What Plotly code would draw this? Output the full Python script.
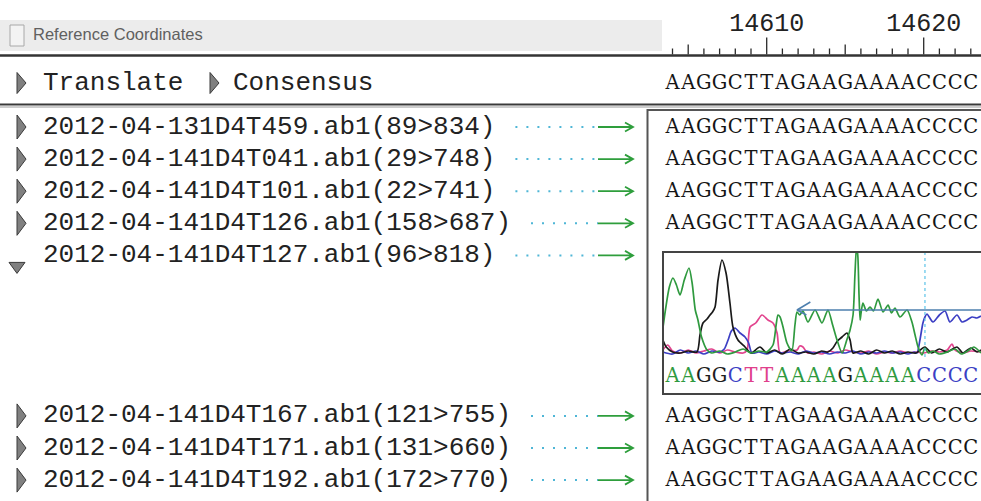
import plotly.graph_objects as go

# ---------------- alignment data ----------------
FIRST_POS = 14604                      # reference coordinate of the first column shown
consensus = "AAGGCTTAGAAGAAAACCCC"
ruler_marks = [14610, 14620]

sample_names = [
    "2012-04-131D4T459.ab1", "2012-04-141D4T041.ab1", "2012-04-141D4T101.ab1",
    "2012-04-141D4T126.ab1", "2012-04-141D4T127.ab1", "2012-04-141D4T167.ab1",
    "2012-04-141D4T171.ab1", "2012-04-141D4T192.ab1",
]
trim_start = [89, 29, 22, 158, 96, 121, 131, 172]
trim_end = [834, 748, 741, 687, 818, 755, 660, 770]
read_bases = [
    "AAGGCTTAGAAGAAAACCCC", "AAGGCTTAGAAGAAAACCCC", "AAGGCTTAGAAGAAAACCCC",
    "AAGGCTTAGAAGAAAACCCC", "AAGGCTTAAAAGAAAACCCC", "AAGGCTTAGAAGAAAACCCC",
    "AAGGCTTAGAAGAAAACCCC", "AAGGCTTAGAAGAAAACCCC",
]
expanded_read = 4                      # read shown with its trace

# chromatogram of the expanded read: offset in bases from FIRST_POS, signal level
trace_A_off = [-0.61, -0.45, -0.2, 0.03, 0.25, 0.48, 0.75, 1.05, 1.25, 1.45, 1.62, 1.85, 2.2,
               2.5, 3.0, 3.5, 4.0, 4.5, 5.0, 5.5, 6.0, 6.4, 6.6, 6.72, 6.85, 7.04, 7.29, 7.6,
               7.8, 7.93, 8.1, 8.31, 8.63, 9.08, 9.52, 9.9, 10.2, 10.48, 10.8, 11.1, 11.31,
               11.5, 11.62, 11.72, 11.8, 11.88, 11.95, 12.01, 12.13, 12.35, 12.58, 12.8, 13.09,
               13.41, 13.73, 13.95, 14.17, 14.49, 14.94, 15.25, 15.45, 15.64, 15.89, 16.08,
               16.3, 16.6, 17.0, 17.5, 18.0, 18.4, 18.8, 19.2, 19.65]
trace_A_sig = [27, 45, 68, 77, 70, 60, 75, 87, 72, 45, 35, 18, 5, 2, 4, 1, 3, 6, 2, 4, 3, 10,
               30, 40, 38, 28, 12, 4, 30, 43, 40, 44, 33, 45, 32, 45, 30, 15, 2, 15, 25, 40, 80,
               108, 100, 60, 35, 42, 52, 44, 48, 44, 56, 43, 50, 42, 47, 38, 45, 33, 20, 8, 0,
               7, 2, 4, 1, 3, 6, 1, 4, 8, 2]
trace_G_off = [-0.61, -0.4, 0.0, 0.5, 1.0, 1.56, 1.75, 1.94, 2.2, 2.39, 2.55, 2.71, 2.9, 3.15,
               3.41, 3.66, 3.85, 4.17, 4.62, 5.0, 5.57, 6.0, 6.5, 7.0, 7.5, 8.0, 8.5, 9.0, 9.5,
               9.9, 10.22, 10.5, 10.8, 11.11, 11.31, 11.5, 12.0, 12.5, 13.0, 13.5, 14.0, 14.5,
               15.0, 15.5, 16.08, 16.5, 17.0, 17.48, 18.12, 18.5, 19.0, 19.4, 19.65]
trace_G_sig = [15, 8, 3, 2, 4, 3, 20, 32, 36, 40, 43, 48, 75, 95, 82, 52, 28, 15, 8, 2, 8, 2,
               5, 1, 6, 2, 3, 1, 4, 3, 7, 14, 18, 22, 15, 2, 4, 1, 5, 2, 4, 1, 3, 2, 8, 2, 6,
               3, 8, 2, 7, 3, 5]
trace_C_off = [-0.61, 0.0, 0.5, 1.0, 1.5, 2.0, 2.5, 3.0, 3.3, 3.54, 3.75, 3.98, 4.3, 4.62, 4.85,
               5.06, 5.5, 6.0, 6.5, 7.0, 7.5, 8.0, 8.5, 9.0, 9.5, 10.0, 10.5, 11.0, 11.5, 12.0,
               12.5, 13.0, 13.5, 14.0, 14.5, 15.0, 15.4, 15.57, 15.76, 15.95, 16.08, 16.21,
               16.59, 17.0, 17.36, 17.67, 18.12, 18.44, 18.76, 19.08, 19.39, 19.65]
trace_C_sig = [3, 1, 5, 2, 4, 1, 4, 3, 6, 15, 24, 27, 22, 18, 12, 2, 3, 1, 4, 2, 3, 1, 4, 2, 3,
               1, 3, 2, 4, 1, 3, 2, 4, 2, 3, 1, 3, 2, 15, 32, 38, 41, 33, 40, 44, 33, 40, 33,
               35, 38, 37, 39]
trace_T_off = [-0.61, -0.3, 0.0, 0.5, 1.0, 1.5, 2.0, 2.5, 3.0, 3.5, 4.0, 4.5, 4.75, 4.94, 5.3,
               5.7, 6.08, 6.4, 6.66, 6.85, 7.3, 7.93, 8.1, 8.31, 8.6, 9.0, 9.5, 10.0, 10.5, 11.0,
               11.5, 12.0, 12.5, 13.0, 13.5, 14.0, 14.5, 15.0, 15.5, 16.0, 16.5, 17.0, 17.5,
               17.8, 18.0, 18.5, 19.0, 19.65]
trace_T_sig = [5, 10, 4, 2, 5, 2, 4, 6, 2, 5, 3, 2, 5, 28, 32, 40, 35, 32, 22, 2, 4, 5, 9, 8,
               2, 3, 1, 4, 2, 5, 3, 2, 4, 1, 3, 2, 4, 2, 3, 2, 4, 3, 5, 11, 5, 2, 4, 3]
clip_marker_off = 7.93                  # quality-clip arrow, leftmost point
clip_marker_sig = 45
cursor_off = 16.08                      # cursor column

# ---------------- screen geometry (pixels) ----------------
W, H = 981, 501
BASE_X0, BASE_W = 672.5, 15.7          # pixel centre of FIRST_POS, column width
MONO = "Liberation Mono, Courier New, monospace"
SEQ_FONT = "DejaVu Serif, serif"
LABEL_SIZE, CHAR_W = 26, 15.6
SEQ_SIZE = 19.5
LABEL_X = 43
ROW0_Y, ROW_H = 127, 32.1
ROW_SLOTS = [0, 1, 2, 3, 4, 9, 10, 11]
RULER_BASE_Y = 54.5
TRANSLATE_Y = 83
PANEL_X, PANEL_Y = 647.5, 110
CHROM_X, CHROM_TOP, CHROM_BASE, CHROM_BOTTOM, CALLS_Y = 663, 252, 355, 394, 377
DOT_END, ARROW_END = 598, 633

BASE_COLORS = {"A": "#2f9a3f", "C": "#3c3fc4", "G": "#1e1e1e", "T": "#e0408c"}
TRACE_COLORS = {"A": "#2f9a3f", "C": "#3c3fc4", "G": "#1a1a1a", "T": "#e2448e"}

x2_range = [FIRST_POS - BASE_X0 / BASE_W, FIRST_POS + (W - BASE_X0) / BASE_W]
cols = list(range(FIRST_POS, FIRST_POS + len(consensus)))

fig = go.Figure()
shapes = []

# header strip
shapes.append(dict(type="rect", xref="x", yref="y", x0=0, x1=662, y0=20, y1=51,
                   fillcolor="#ececec", line=dict(width=0), layer="below"))
shapes.append(dict(type="rect", xref="x", yref="y", x0=10, x1=24, y0=25, y1=46,
                   fillcolor="#f3f3f3", line=dict(color="#a8a8a8", width=1)))
fig.add_trace(go.Scatter(x=[33], y=[35.5], mode="text", text=["Reference Coordinates"],
                         textposition="middle right", xaxis="x", yaxis="y",
                         textfont=dict(family="Liberation Sans, Arial", size=16.5, color="#606060")))

# separators
shapes.append(dict(type="line", xref="x", yref="y", x0=0, x1=W, y0=RULER_BASE_Y + 1, y1=RULER_BASE_Y + 1,
                   line=dict(color="#333333", width=2.5)))
shapes.append(dict(type="line", xref="x", yref="y", x0=0, x1=W, y0=104.5, y1=104.5,
                   line=dict(color="#3a3a3a", width=2)))
shapes.append(dict(type="line", xref="x", yref="y", x0=0, x1=W, y0=107, y1=107,
                   line=dict(color="#9a9a9a", width=1)))

# ruler ticks
tick_x, tick_y = [], []
for p in cols:
    length = 17 if p % 10 == 0 else (10 if p % 5 == 0 else 6)
    tick_x += [p, p, None]
    tick_y += [RULER_BASE_Y, RULER_BASE_Y - length, None]
fig.add_trace(go.Scatter(x=tick_x, y=tick_y, mode="lines", xaxis="x2", yaxis="y",
                         line=dict(color="#2a2a2a", width=1.3), hoverinfo="skip"))
fig.add_trace(go.Scatter(x=ruler_marks, y=[25] * len(ruler_marks), mode="text",
                         text=[str(m) for m in ruler_marks], xaxis="x2", yaxis="y",
                         textfont=dict(family=MONO, size=25, color="#222222")))


def right_tri(x, y, h):
    return dict(type="path", xref="x", yref="y",
                path=f"M{x},{y - h / 2} L{x + 9},{y} L{x},{y + h / 2} Z",
                fillcolor="#808080", line=dict(color="#3a3a3a", width=1))


# Translate / Consensus bar
shapes.append(right_tri(17, TRANSLATE_Y, 21))
shapes.append(right_tri(210, TRANSLATE_Y, 21))
fig.add_trace(go.Scatter(x=[LABEL_X, 233], y=[TRANSLATE_Y] * 2, mode="text",
                         text=["Translate", "Consensus"], textposition="middle right",
                         xaxis="x", yaxis="y",
                         textfont=dict(family=MONO, size=LABEL_SIZE, color="#222222")))
fig.add_trace(go.Scatter(x=cols, y=[TRANSLATE_Y + 1] * len(cols), mode="text",
                         text=list(consensus), xaxis="x2", yaxis="y",
                         textfont=dict(family=SEQ_FONT, size=SEQ_SIZE, color="#151515")))

# read panel frame
shapes.append(dict(type="rect", xref="x", yref="y", x0=PANEL_X, x1=W + 20, y0=PANEL_Y, y1=H + 20,
                   line=dict(color="#555555", width=2)))

# read rows
row_y = [ROW0_Y + s * ROW_H for s in ROW_SLOTS]
labels = [f"{n}({a}>{b})" for n, a, b in zip(sample_names, trim_start, trim_end)]
fig.add_trace(go.Scatter(x=[LABEL_X] * len(labels), y=row_y, mode="text", text=labels,
                         textposition="middle right", xaxis="x", yaxis="y",
                         textfont=dict(family=MONO, size=LABEL_SIZE, color="#222222")))
for i, (lab, y) in enumerate(zip(labels, row_y)):
    if i == expanded_read:
        shapes.append(dict(type="path", xref="x", yref="y",
                           path=f"M9,{y + 7} L25,{y + 7} L17,{y + 18} Z",
                           fillcolor="#808080", line=dict(color="#3a3a3a", width=1)))
    else:
        shapes.append(right_tri(17, y, 24))
    dot_start = LABEL_X + len(lab) * CHAR_W + 20
    shapes.append(dict(type="line", xref="x", yref="y", x0=dot_start, x1=DOT_END, y0=y, y1=y,
                       line=dict(color="#4fb6d6", width=2, dash="2px,9px")))
    shapes.append(dict(type="path", xref="x", yref="y",
                       path=f"M{DOT_END},{y} L{ARROW_END},{y} M{ARROW_END - 8},{y - 4.5} "
                            f"L{ARROW_END},{y} L{ARROW_END - 8},{y + 4.5}",
                       line=dict(color="#2e9e3c", width=1.8)))
    if i != expanded_read:
        fig.add_trace(go.Scatter(x=cols, y=[y + 1] * len(cols), mode="text",
                                 text=list(read_bases[i]), xaxis="x2", yaxis="y",
                                 textfont=dict(family=SEQ_FONT, size=SEQ_SIZE, color="#151515")))

# chromatogram of the expanded read
shapes.append(dict(type="rect", xref="x", yref="y", x0=CHROM_X, x1=W + 20, y0=CHROM_TOP,
                   y1=CHROM_BOTTOM, line=dict(color="#444444", width=2)))
for base, offs, sig in [("T", trace_T_off, trace_T_sig), ("C", trace_C_off, trace_C_sig),
                        ("G", trace_G_off, trace_G_sig), ("A", trace_A_off, trace_A_sig)]:
    fig.add_trace(go.Scatter(x=[FIRST_POS + o for o in offs], y=sig, mode="lines",
                             xaxis="x2", yaxis="y2",
                             line=dict(color=TRACE_COLORS[base], width=1.7, shape="spline",
                                       smoothing=0.7),
                             hoverinfo="skip"))
fig.add_trace(go.Scatter(x=[FIRST_POS + cursor_off] * 2, y=[-2, 110], mode="lines",
                         xaxis="x2", yaxis="y2",
                         line=dict(color="#5cc3e8", width=1.2, dash="dot")))
cx = FIRST_POS + clip_marker_off
fig.add_trace(go.Scatter(x=[x2_range[1] + 1, cx, None, cx + 0.85, cx, cx + 0.6],
                         y=[clip_marker_sig, clip_marker_sig, None, clip_marker_sig + 8,
                            clip_marker_sig, clip_marker_sig - 5],
                         mode="lines", xaxis="x2", yaxis="y2",
                         line=dict(color="#4d7fae", width=1.5)))
called = read_bases[expanded_read]
fig.add_trace(go.Scatter(x=cols, y=[CALLS_Y] * len(cols), mode="text", text=list(called),
                         xaxis="x2", yaxis="y",
                         textfont=dict(family=SEQ_FONT, size=SEQ_SIZE,
                                       color=[BASE_COLORS[b] for b in called])))

sig_px = 1.0                                       # one signal unit per pixel
y2_lo = -(CHROM_BOTTOM - 32 - CHROM_BASE) / sig_px
y2_hi = (CHROM_BASE - CHROM_TOP) / sig_px
y2_domain = [1 - (CHROM_BASE - y2_lo * sig_px) / H, 1 - CHROM_TOP / H]

hidden = dict(visible=False, fixedrange=True, showgrid=False, zeroline=False)
fig.update_layout(
    width=W, height=H, margin=dict(l=0, r=0, t=0, b=0),
    paper_bgcolor="white", plot_bgcolor="rgba(0,0,0,0)", showlegend=False,
    xaxis=dict(range=[0, W], domain=[0, 1], **hidden),
    yaxis=dict(range=[H, 0], domain=[0, 1], **hidden),
    xaxis2=dict(range=x2_range, overlaying="x", **hidden),
    yaxis2=dict(range=[y2_lo, y2_hi], domain=y2_domain, anchor="x2", **hidden),
    shapes=shapes,
)
fig.write_html("out.html")
